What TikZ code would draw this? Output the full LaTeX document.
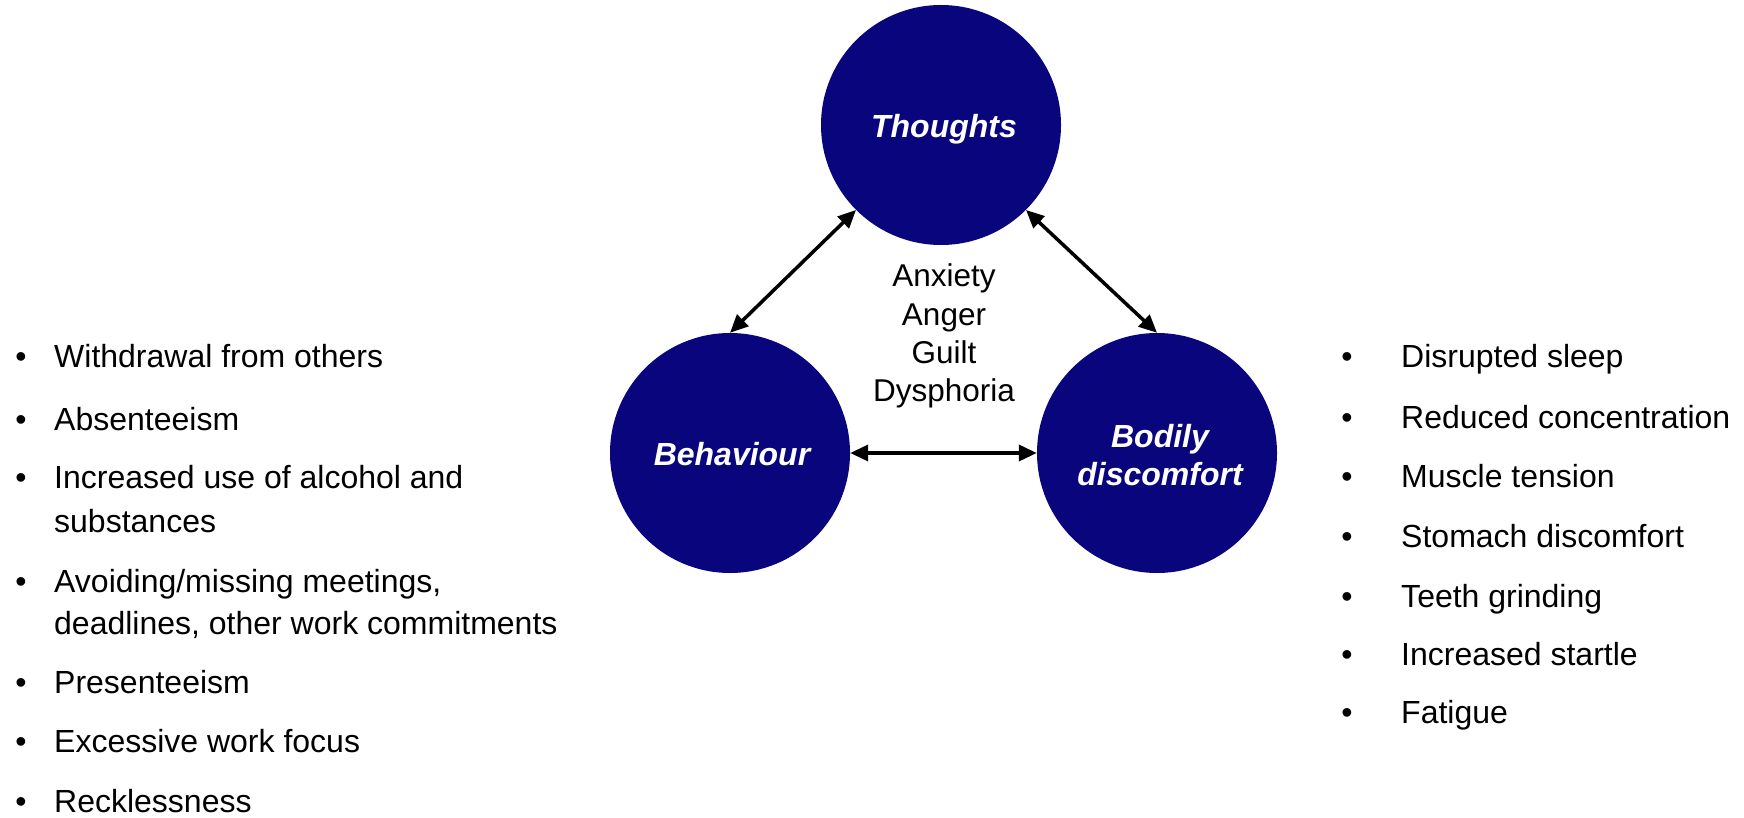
\documentclass[tikz,border=0pt]{standalone}
\usepackage{fontspec}
\setmainfont{Liberation Sans}
\usetikzlibrary{arrows.meta}
\definecolor{navyc}{RGB}{9,5,124}
\begin{document}
\begin{tikzpicture}[x=1pt,y=-1pt,
  bubble/.style={circle,fill=navyc,draw=none,minimum size=240pt,inner sep=0pt},
  bubtxt/.style={text=white,font=\fontsize{32}{38}\selectfont\bfseries\itshape,inner sep=0pt,anchor=base},
  item/.style={font=\fontsize{32}{38}\selectfont,inner sep=0pt,anchor=base west},
  bul/.style={font=\fontsize{32}{38}\selectfont,inner sep=0pt,anchor=base},
  mid/.style={font=\fontsize{31.5}{38}\selectfont,inner sep=0pt,anchor=base},
  link/.style={line width=3.5pt,{Triangle[length=18pt,width=16pt]}-{Triangle[length=18pt,width=16pt]}}
]
\useasboundingbox (0,0) rectangle (1744,818);

% circles
\node[bubble] (T) at (941,125) {};
\node[bubble] (B) at (730,453) {};
\node[bubble] (D) at (1157,453) {};

\node[bubtxt] (tT) at (944,138) {Thoughts};
\node[bubtxt] (tB) at (732,465) {Behaviour};
\node[bubtxt] (tD1) at (1160,447) {Bodily};
\node[bubtxt] (tD2) at (1160,485) {discomfort};

% connectors
\draw[link] (T.south west) -- (B.north);
\draw[link] (T.south east) -- (D.north);
\draw[link] (B.east) -- (D.west);

% centre emotions
\node[mid] (m1) at (944,287) {Anxiety};
\node[mid] (m2) at (944,325) {Anger};
\node[mid] (m3) at (944,363) {Guilt};
\node[mid] (m4) at (944,401) {Dysphoria};

% left list
\node[bul] (lb1) at (21,367) {•};
\node[item] (l1) at (54,367) {Withdrawal from others};
\node[bul] (lb2) at (21,430) {•};
\node[item] (l2) at (54,430) {Absenteeism};
\node[bul] (lb3) at (21,488) {•};
\node[item] (l3a) at (54,488) {Increased use of alcohol and};
\node[item] (l3b) at (54,532) {substances};
\node[bul] (lb4) at (21,592) {•};
\node[item] (l4a) at (54,592) {Avoiding/missing meetings,};
\node[item] (l4b) at (54,634) {deadlines, other work commitments};
\node[bul] (lb5) at (21,693) {•};
\node[item] (l5) at (54,693) {Presenteeism};
\node[bul] (lb6) at (21,752) {•};
\node[item] (l6) at (54,752) {Excessive work focus};
\node[bul] (lb7) at (21,812) {•};
\node[item] (l7) at (54,812) {Recklessness};

% right list
\node[bul] (rb1) at (1347,367) {•};
\node[item] (r1) at (1401,367) {Disrupted sleep};
\node[bul] (rb2) at (1347,428) {•};
\node[item] (r2) at (1401,428) {Reduced concentration};
\node[bul] (rb3) at (1347,487) {•};
\node[item] (r3) at (1401,487) {Muscle tension};
\node[bul] (rb4) at (1347,547) {•};
\node[item] (r4) at (1401,547) {Stomach discomfort};
\node[bul] (rb5) at (1347,607) {•};
\node[item] (r5) at (1401,607) {Teeth grinding};
\node[bul] (rb6) at (1347,665) {•};
\node[item] (r6) at (1401,665) {Increased startle};
\node[bul] (rb7) at (1347,723) {•};
\node[item] (r7) at (1401,723) {Fatigue};
\end{tikzpicture}
\end{document}
